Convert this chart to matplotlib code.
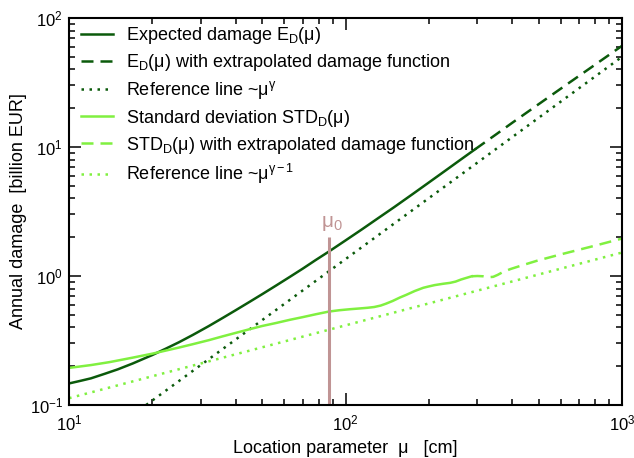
import numpy as np
import matplotlib.pyplot as plt

plt.rcParams['font.family'] = ['Liberation Sans', 'DejaVu Sans']
plt.rcParams['mathtext.fontset'] = 'custom'
plt.rcParams['mathtext.rm'] = 'Liberation Sans'
plt.rcParams['mathtext.it'] = 'Liberation Sans:italic'
plt.rcParams['mathtext.bf'] = 'Liberation Sans:bold'

# expected damage, computed part and extrapolated part
mu_ed = [10, 11, 12, 13.5, 15, 17, 20, 22.5, 25, 28, 32, 36, 40, 45, 50, 56,
         63, 70, 78, 87, 100, 115, 130, 150, 175, 200, 230, 260, 294]
ed = [0.147, 0.154, 0.161, 0.175, 0.189, 0.210, 0.244, 0.275, 0.307, 0.349,
      0.409, 0.474, 0.542, 0.631, 0.724, 0.842, 0.987, 1.14, 1.33, 1.546,
      1.887, 2.31, 2.77, 3.42, 4.32, 5.30, 6.57, 7.94, 9.59]
mu_ed_ext = [294, 350, 400, 500, 650, 800, 1000]
ed_ext = [9.59, 12.5, 15.35, 21.5, 31.9, 43.5, 60.8]

# standard deviation of damage
mu_std = [10, 12, 14, 17, 20, 22, 25, 28, 32, 36, 40, 45, 50, 56, 63, 70, 78,
          87, 95, 104, 112, 120, 127, 134, 140, 148, 157, 166, 178, 191, 200,
          210, 225, 239, 250, 262, 275, 286]
std = [0.194, 0.204, 0.215, 0.233, 0.250, 0.262, 0.279, 0.296, 0.318, 0.341,
       0.362, 0.387, 0.410, 0.432, 0.458, 0.48, 0.505, 0.53, 0.543, 0.553,
       0.56, 0.567, 0.575, 0.59, 0.61, 0.64, 0.68, 0.715, 0.765, 0.81, 0.83,
       0.85, 0.87, 0.885, 0.905, 0.94, 0.97, 0.995]
mu_std_ext = [286, 300, 315, 330, 342, 355, 370, 394, 430, 491, 600, 800, 1000]
std_ext = [0.995, 1.0, 0.995, 0.98, 0.985, 1.02, 1.07, 1.13, 1.2, 1.31, 1.47,
           1.72, 1.95]

# reference power laws (end points)
mu_ref = [19, 1000]
ref_ed = [0.1, 50.0]
mu_ref2 = [10, 1000]
ref_std = [0.113, 1.52]

mu0 = 87
mu0_top = 2.0

dark = '#0b5a0b'
light = '#80f040'
rose = '#c09494'

fig = plt.figure(figsize=(6.34, 4.58), dpi=100)
ax = fig.add_axes([0.109, 0.1157, 0.872, 0.845])

lw = 1.8
dash = (0, (4.8, 2.8))
dot = (0, (1, 2.2))

ax.plot(mu_ed, ed, color=dark, lw=lw, label=r'Expected damage E$_\mathrm{D}$(μ)')
ax.plot(mu_ed_ext, ed_ext, color=dark, lw=lw, ls=dash,
        label=r'E$_\mathrm{D}$(μ) with extrapolated damage function')
ax.plot(mu_ref, ref_ed, color=dark, lw=lw, ls=dot,
        label=r'Reference line ~μ$^\mathrm{γ}$')
ax.plot(mu_std, std, color=light, lw=lw, label=r'Standard deviation STD$_\mathrm{D}$(μ)')
ax.plot(mu_std_ext, std_ext, color=light, lw=lw, ls=dash,
        label=r'STD$_\mathrm{D}$(μ) with extrapolated damage function')
ax.plot(mu_ref2, ref_std, color=light, lw=lw, ls=dot,
        label=r'Reference line ~μ$^\mathrm{γ-1}$')

ax.plot([mu0, mu0], [0.1, mu0_top], color=rose, lw=2.2, solid_capstyle='butt')
ax.text(mu0 + 2, mu0_top * 1.08, r'μ$_0$', color=rose, fontsize=15,
        ha='center', va='bottom')

ax.set_xscale('log')
ax.set_yscale('log')
ax.set_xlim(10, 1000)
ax.set_ylim(0.1, 100)

ax.tick_params(which='both', direction='in', top=True, right=True, width=1.1)
ax.tick_params(which='major', length=8.5, labelsize=12)
ax.tick_params(axis='y', which='major', pad=4.5)
ax.tick_params(axis='x', which='major', pad=6)
ax.tick_params(which='minor', length=4.3)
for s in ax.spines.values():
    s.set_linewidth(1.5)

ax.set_xlabel('Location parameter  μ   [cm]', fontsize=13, labelpad=5)
ax.set_ylabel('Annual damage  [billion EUR]', fontsize=13, labelpad=2)

ax.legend(loc='upper left', bbox_to_anchor=(0.0087, 1.0), frameon=False,
          fontsize=13, handlelength=1.78, handletextpad=0.72,
          labelspacing=0.34, borderaxespad=0)

fig.savefig('out.png', dpi=100)
